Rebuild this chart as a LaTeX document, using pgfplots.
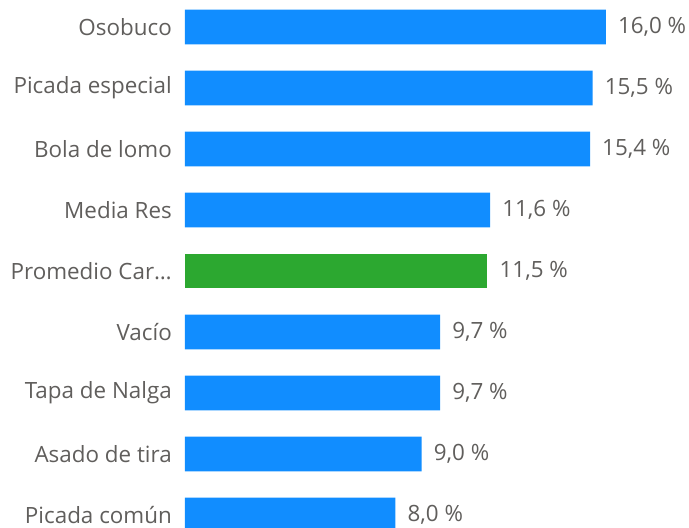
\documentclass[border=0pt]{standalone}
\usepackage{pgfplots}
\pgfplotsset{compat=1.18}
\usepackage{fontspec}
\setmainfont{Open Sans}
\definecolor{pbblue}{HTML}{118DFF}
\definecolor{pbgreen}{HTML}{2CA830}
\definecolor{txt}{HTML}{605E5C}
\begin{document}
\begin{tikzpicture}
\path[use as bounding box] (0pt,0pt) rectangle (689pt,528pt);
\clip (0pt,0pt) rectangle (689pt,528pt);
\begin{axis}[
  at={(185pt,531.5pt)}, anchor=north west,
  scale only axis,
  width=420.8pt, height=549pt,
  y dir=reverse,
  xmin=0, xmax=16, ymin=-0.5, ymax=8.5,
  clip=false,
  axis line style={draw=none},
  major tick length=0pt,
  xtick=\empty,
  ytick={0,1,2,3,4,5,6,7,8},
  yticklabels={Osobuco, Picada especial, Bola de lomo, Media Res, Promedio Car…, Vacío, Tapa de Nalga, Asado de tira, Picada común},
  yticklabel style={font=\fontsize{22.4}{26}\selectfont, text=txt, anchor=east, inner sep=0pt, xshift=-13pt},
  xbar, bar width=34.6pt, bar shift=0pt,
  nodes near coords={\pgfmathprintnumber{\pgfplotspointmeta}~\%},
  nodes near coords style={font=\fontsize{22.4}{26}\selectfont, text=txt, anchor=west, inner sep=0pt, xshift=12pt},
  point meta=x,
  /pgf/number format/.cd, fixed, fixed zerofill, precision=1, use comma, assume math mode=true,
]
\addplot[draw=none, fill=pbblue] coordinates {(16.0,0) (15.5,1) (15.4,2) (11.6,3) (9.7,5) (9.7,6) (9.0,7) (8.0,8)};
\addplot[draw=none, fill=pbgreen] coordinates {(11.5,4)};
\end{axis}
\end{tikzpicture}
\end{document}
